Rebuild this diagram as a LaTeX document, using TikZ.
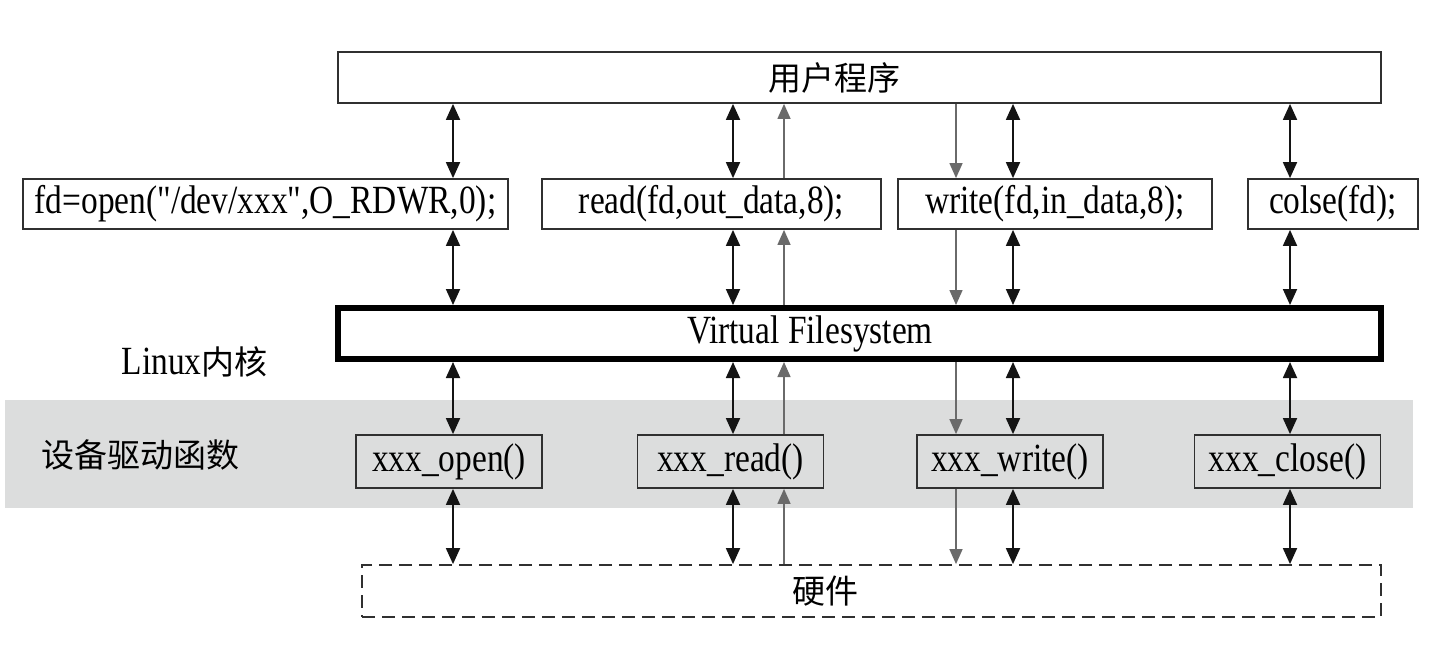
\documentclass[tikz,border=0pt]{standalone}
\usepackage{fontspec}
\usetikzlibrary{arrows.meta}
\newfontfamily\latinf{Liberation Serif}[FakeStretch=0.835]
\newfontfamily\cjkf{Noto Sans CJK SC}
\definecolor{bandgray}{HTML}{DCDDDD}
\definecolor{boxline}{HTML}{303030}
\definecolor{grayarrow}{HTML}{6A6A6A}
\begin{document}
\begin{tikzpicture}[x=1pt,y=-1pt,
  box/.style={draw=boxline, line width=1.8pt, fill=white, inner sep=0pt,
              font={\latinf\fontsize{40}{44}\selectfont}},
  callbox/.style={box, minimum height=50pt},
  drvbox/.style={box, fill=bandgray, minimum width=186pt, minimum height=53pt},
  cjktext/.style={inner sep=0pt, font={\cjkf\fontsize{33}{36}\selectfont}},
  bidir/.style={line width=1.8pt, black!92,
                {Triangle[width=14pt,length=16pt]}-{Triangle[width=14pt,length=16pt]}},
  oneway/.style={line width=1.4pt, grayarrow, -{Triangle[width=13pt,length=15pt]}}
]
\path[fill=white, use as bounding box] (0,0) rectangle (1429,646);

% gray band of driver functions
\fill[bandgray] (5,400) rectangle (1413,508);

% user program
\node[box, minimum width=1043pt, minimum height=51pt,
      label={[xshift=-25pt, cjktext]center:用户程序}] (top) at (859.5,77.5) {};

% system calls
\node[callbox, minimum width=485pt] (uopen) at (265.5,204) {fd=open("/dev/xxx",O\_RDWR,0);};
\node[callbox, minimum width=339pt] (uread) at (711.5,204) {read(fd,out\_data,8);};
\node[callbox, minimum width=314pt] (uwrite) at (1055,204) {write(fd,in\_data,8);};
\node[callbox, minimum width=170pt] (uclose) at (1333,204) {colse(fd);};

% virtual filesystem
\node[box, line width=6pt, draw=black, minimum width=1043pt, minimum height=51pt] (vfs)
  at (859.5,333.5) {\hspace*{-99pt}Virtual Filesystem};

% side labels
\node[inner sep=0pt] (kern) at (194.5,362)
  {{\latinf\fontsize{40}{44}\selectfont Linux}{\cjkf\fontsize{33}{36}\selectfont 内核}};
\node[cjktext] (drvlabel) at (140,455) {设备驱动函数};

% driver functions
\node[drvbox] (dopen) at (449,461.5) {xxx\_open()};
\node[drvbox] (dread) at (730.5,461.5) {xxx\_read()};
\node[drvbox] (dwrite) at (1010,461.5) {xxx\_write()};
\node[drvbox] (dclose) at (1287.5,461.5) {xxx\_close()};

% hardware
\node[box, dash pattern=on 13pt off 7pt, minimum width=1019pt, minimum height=52pt,
      label={[xshift=-46pt, cjktext]center:硬件}] (hw) at (871.5,591) {};

% column positions
\coordinate (cA) at (453,0);
\coordinate (cB) at (733,0);
\coordinate (cBg) at (784,0);
\coordinate (cCg) at (956,0);
\coordinate (cC) at (1013,0);
\coordinate (cD) at (1290,0);

% black two-way connectors
\foreach \c/\u/\d in {cA/uopen/dopen, cB/uread/dread, cC/uwrite/dwrite, cD/uclose/dclose}{
  \draw[bidir] (top.south -| \c) -- (\u.north -| \c);
  \draw[bidir] (\u.south -| \c) -- (vfs.north -| \c);
  \draw[bidir] (vfs.south -| \c) -- (\d.north -| \c);
  \draw[bidir] (\d.south -| \c) -- (hw.north -| \c);
}

% gray data flow: read goes up
\draw[oneway] (uread.north -| cBg) -- (top.south -| cBg);
\draw[oneway] (vfs.north -| cBg) -- (uread.south -| cBg);
\draw[oneway] (dread.north -| cBg) -- (vfs.south -| cBg);
\draw[oneway] (hw.north -| cBg) -- (dread.south -| cBg);

% gray data flow: write goes down
\draw[oneway] (top.south -| cCg) -- (uwrite.north -| cCg);
\draw[oneway] (uwrite.south -| cCg) -- (vfs.north -| cCg);
\draw[oneway] (vfs.south -| cCg) -- (dwrite.north -| cCg);
\draw[oneway] (dwrite.south -| cCg) -- (hw.north -| cCg);
\end{tikzpicture}
\end{document}
